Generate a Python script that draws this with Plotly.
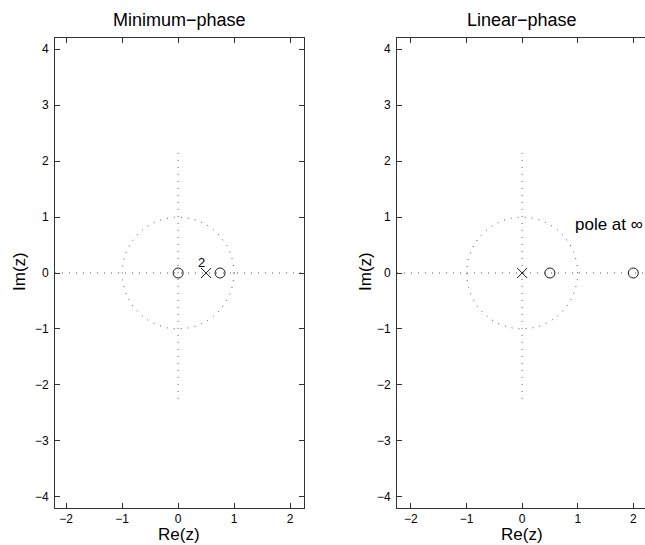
import numpy as np
import plotly.graph_objects as go

# Pole/zero data for the two filters
mp_zeros = [0.0, 0.75]
mp_poles = [0.5]
mp_pole_mult = "2"

lp_zeros = [0.5, 2.0]
lp_poles = [0.0]
lp_note = "pole at ∞"

titles = ["Minimum−phase", "Linear−phase"]
x_ticks = [-2, -1, 0, 1, 2]
y_ticks = [-4, -3, -2, -1, 0, 1, 2, 3, 4]

W, H = 645, 545
FONT = "Liberation Sans, Arial, Helvetica, sans-serif"
INK = "#1a1a1a"
DOT = "#555555"

x_ranges = [[-2.2, 2.25], [-2.25, 2.21]]
y_range = [-4.2, 4.2]
vline_span = [-2.25, 2.15]

fig = go.Figure()

theta = np.linspace(0, 2 * np.pi, 361)
circ_x = np.cos(theta)
circ_y = np.sin(theta)


def add_plane(idx, zeros, poles, xr):
    xa = "x" if idx == 0 else "x2"
    ya = "y" if idx == 0 else "y2"
    dotted = dict(color=DOT, width=1, dash="1px,6px")
    # unit circle
    fig.add_trace(go.Scatter(x=circ_x, y=circ_y, mode="lines", line=dotted,
                             xaxis=xa, yaxis=ya, hoverinfo="skip"))
    # real and imaginary axes
    fig.add_trace(go.Scatter(x=[xr[0], xr[1]], y=[0, 0], mode="lines", line=dotted,
                             xaxis=xa, yaxis=ya, hoverinfo="skip"))
    fig.add_trace(go.Scatter(x=[0, 0], y=vline_span, mode="lines", line=dotted,
                             xaxis=xa, yaxis=ya, hoverinfo="skip"))
    # zeros
    fig.add_trace(go.Scatter(x=zeros, y=[0] * len(zeros), mode="markers",
                             marker=dict(symbol="circle-open", size=10, color=INK,
                                         line=dict(width=1, color=INK)),
                             xaxis=xa, yaxis=ya))
    # poles
    fig.add_trace(go.Scatter(x=poles, y=[0] * len(poles), mode="markers",
                             marker=dict(symbol="x-thin-open", size=10, color=INK,
                                         line=dict(width=1, color=INK)),
                             xaxis=xa, yaxis=ya))


add_plane(0, mp_zeros, mp_poles, x_ranges[0])
add_plane(1, lp_zeros, lp_poles, x_ranges[1])

left_dom = [55 / W, 304 / W]
right_dom = [397 / W, 1.0]
y_dom = [1 - 508 / H, 1 - 38 / H]

axis_common = dict(
    showgrid=False, zeroline=False, showline=True, linecolor="#333333", linewidth=1,
    ticks="inside", ticklen=5, tickwidth=1, tickcolor="#333333",
    tickfont=dict(family=FONT, size=12, color="black"),
)

fig.update_layout(
    width=W, height=H,
    margin=dict(l=0, r=0, t=0, b=0),
    paper_bgcolor="white", plot_bgcolor="white",
    showlegend=False,
    xaxis=dict(domain=left_dom, range=x_ranges[0], anchor="y", mirror="ticks",
               tickvals=x_ticks, **axis_common),
    yaxis=dict(domain=y_dom, range=y_range, anchor="x", mirror="ticks",
               tickvals=y_ticks, ticklabelstandoff=3, **axis_common),
    xaxis2=dict(domain=right_dom, range=x_ranges[1], anchor="y2", mirror="ticks",
                tickvals=x_ticks, **axis_common),
    yaxis2=dict(domain=y_dom, range=y_range, anchor="x2", mirror=False,
                tickvals=y_ticks, ticklabelstandoff=3, **axis_common),
)


def px(xp, yp):
    return xp / W, 1 - yp / H


annots = []
for cx, title in zip([179, 522], titles):
    tx, ty = px(cx, 20)
    annots.append(dict(text=title, x=tx, y=ty, xref="paper", yref="paper",
                       xanchor="center", yanchor="middle", showarrow=False,
                       font=dict(family=FONT, size=18, color="black")))
    lx, _ = px(cx, 545)
    annots.append(dict(text="Re(z)", x=lx, y=0, xref="paper", yref="paper",
                       xanchor="center", yanchor="bottom", showarrow=False,
                       borderpad=0,
                       font=dict(family=FONT, size=17, color="black")))
for cxl in [19, 365]:
    ix, iy = px(cxl, 272)
    annots.append(dict(text="Im(z)", x=ix, y=iy, xref="paper", yref="paper",
                       xanchor="center", yanchor="middle", showarrow=False, textangle=-90,
                       font=dict(family=FONT, size=17, color="black")))

# multiplicity of the double pole
annots.append(dict(text=mp_pole_mult, x=mp_poles[0] - 0.09, y=0.18, xref="x", yref="y",
                   xanchor="center", yanchor="middle", showarrow=False,
                   font=dict(family=FONT, size=13, color="black")))
# note for the linear-phase filter
annots.append(dict(text=lp_note, x=x_ranges[1][1], y=0.86, xref="x2", yref="y2",
                   xanchor="right", yanchor="middle", showarrow=False,
                   font=dict(family=FONT, size=17, color="black")))

fig.update_layout(annotations=annots)

fig.write_html("out.html")
